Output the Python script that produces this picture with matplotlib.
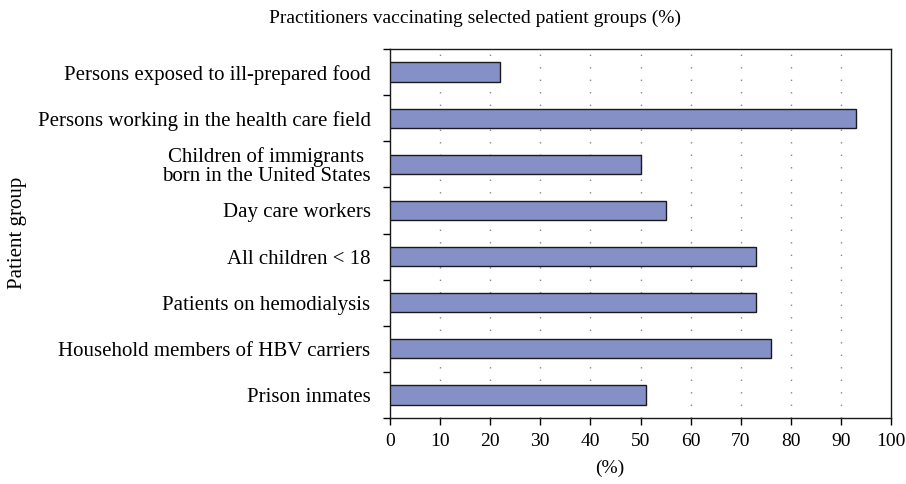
import numpy as np
import matplotlib.pyplot as plt

# Categories listed top to bottom
groups = [
    "Persons exposed to ill-prepared food",
    "Persons working in the health care field",
    "Children of immigrants\nborn in the United States",
    "Day care workers",
    "All children < 18",
    "Patients on hemodialysis",
    "Household members of HBV carriers",
    "Prison inmates",
]
percent = [22, 93, 50, 55, 73, 73, 76, 51]
xticks = [0, 10, 20, 30, 40, 50, 60, 70, 80, 90, 100]

plt.rcParams["font.family"] = ["Liberation Serif", "DejaVu Serif"]

fig = plt.figure(figsize=(9.06, 4.84), dpi=100)
ax = fig.add_axes([390 / 906, 1 - 418 / 484, 501 / 906, 369 / 484])

y = np.arange(len(groups))[::-1]
ax.barh(y, percent, height=0.42, color="#8590C6", edgecolor="#1a1a1a", linewidth=1.0, zorder=3)

ax.set_xlim(0, 100)
ax.set_ylim(-0.5, len(groups) - 0.5)
ax.set_xticks(xticks)
ax.set_xticklabels([str(t) for t in xticks], fontsize=14)

# category labels, tick marks between categories
ax.set_yticks(y)
ax.set_yticklabels(groups, fontsize=15, linespacing=0.95)
ax.set_yticks(np.arange(len(groups) + 1) - 0.5, minor=True)
ax.tick_params(axis="y", which="major", length=0, pad=14)
ax.tick_params(axis="y", which="minor", length=5, width=1, direction="out")
ax.tick_params(axis="x", length=5, width=1, direction="out", pad=6)
for lbl in ax.get_yticklabels():
    lbl.set_multialignment("center")

# dotted vertical grid
for t in xticks[1:-1]:
    ax.axvline(t, color="#888888", linestyle=(0, (1, 8)), linewidth=1.0, zorder=1)

for s in ax.spines.values():
    s.set_color("#1a1a1a")
    s.set_linewidth(1.0)

fig.text(475 / 906, 1 - 18 / 484, "Practitioners vaccinating selected patient groups (%)",
         ha="center", va="center", fontsize=14)
fig.text(610 / 906, 1 - 468 / 484, "(%)", ha="center", va="center", fontsize=14)
fig.text(18 / 906, 1 - 233 / 484, "Patient group", ha="center", va="center",
         rotation=90, fontsize=15)

plt.savefig("out.png", dpi=100)
